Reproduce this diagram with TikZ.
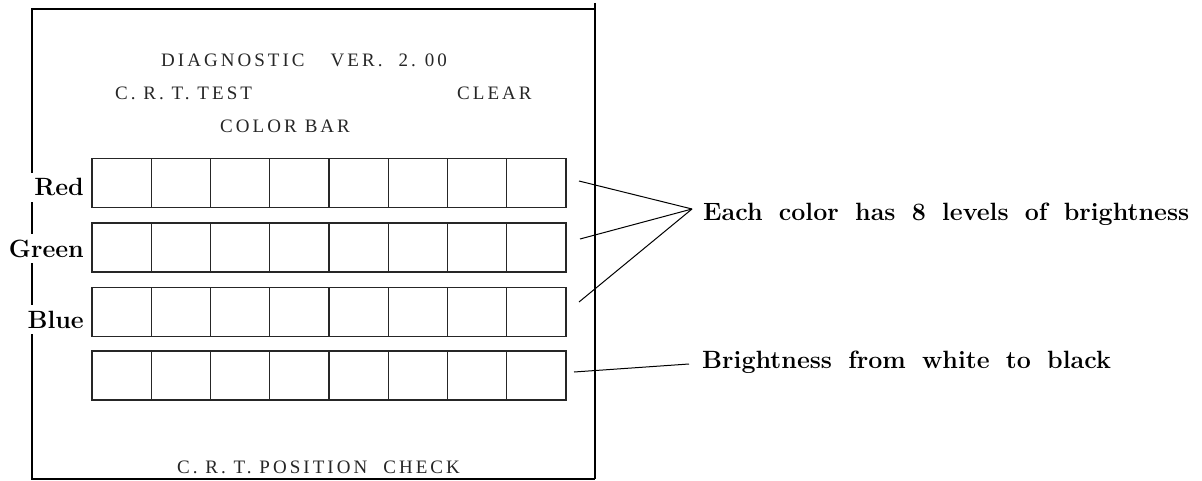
\documentclass[tikz,border=0pt]{standalone}
\usepackage{fontspec}
\newfontfamily\scrfont{Liberation Serif}[LetterSpace=16]
\begin{document}
\begin{tikzpicture}[x=1pt,y=-1pt]
\tikzset{
 cell/.style={draw=black!85, line width=1.1pt, minimum width=59.25pt, minimum height=49pt, inner sep=0pt, outer sep=0pt},
 lbl/.style={font={\fontsize{25}{25}\selectfont\bfseries}, anchor=base east, fill=white, inner sep=6pt},
 scr/.style={font={\fontsize{19}{19}\scrfont}, anchor=base west, inner sep=0pt, text=black!85},
 note/.style={font={\fontsize{25}{25}\selectfont\bfseries\spaceskip=0.65em\relax}, anchor=base west, inner sep=0pt},
 lead/.style={line width=1pt},
 frame/.style={line width=1.5pt},
}
\useasboundingbox (0,0) rectangle (1202,481);
% frame
\coordinate (f1) at (32,9);
\coordinate (f2) at (595,9);
\coordinate (f3) at (595,479);
\coordinate (f4) at (32,479);
\coordinate (f0) at (595,3);
\draw[frame] (f2) -- (f1) -- (f4) -- (f3);
\draw[line width=2.5pt] (f0) -- (f3);
% screen texts
\node[scr] (diag) at (161,67) {DIAGNOSTIC\hspace{26pt}VER.\hspace{16pt}2.\hspace{9pt}00};
\node[scr] (crt) at (115,100) {C. R. T. TEST};
\node[scr] (clear) at (457,100) {CLEAR};
\node[scr] (cbar) at (220,133) {COLOR\hspace{8pt}BAR};
\node[scr] (pos) at (177,473) {C. R. T. POSITION\hspace{16pt}CHECK};
% labels
\node[lbl] (red) at (90,196) {Red};
\node[lbl] (green) at (90,257) {Green};
\node[lbl] (blue) at (90,328) {Blue};
% cells
\foreach \r/\yc in {1/183,2/247.5,3/312,4/375.5}{
  \foreach \c in {1,...,8}{
    \node[cell] (r\r-\c) at ({92+59.25*(\c-0.5)},\yc) {};
  }
}
% leaders
\coordinate (s1) at (579,181);
\coordinate (s2) at (580,239);
\coordinate (s3) at (579,302);
\coordinate (conv) at (692,209);
\coordinate (s4) at (574,372);
\coordinate (e4) at (689,364);
\draw[lead] (s1) -- (conv);
\draw[lead] (s2) -- (conv);
\draw[lead] (s3) -- (conv);
\draw[lead] (s4) -- (e4);
\node[note] (each) at (703,221) {Each color has 8 levels of brightness};
\node[note] (bright) at (702,368) {Brightness from white to black};
\end{tikzpicture}
\end{document}
